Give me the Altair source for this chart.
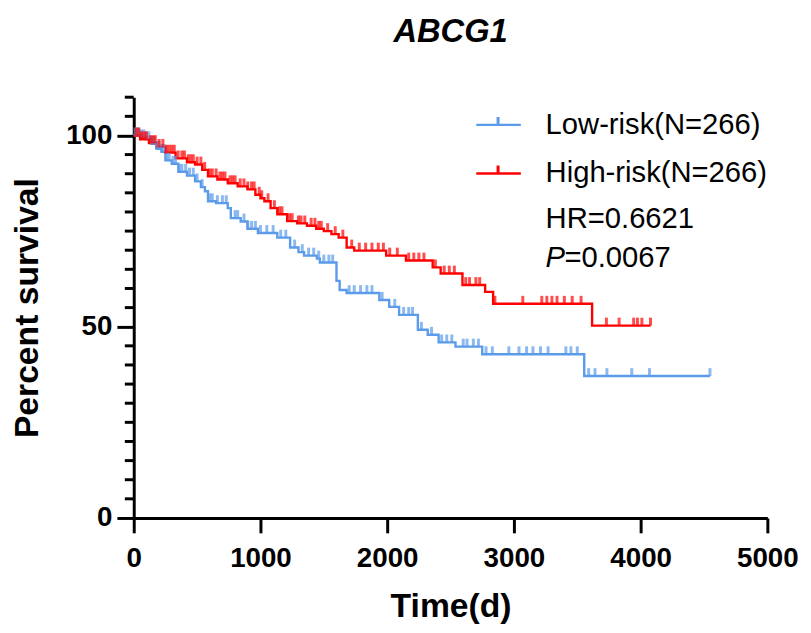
import altair as alt
import pandas as pd

# ---------------- data ----------------
title_text = "ABCG1"
groups = ["Low-risk", "High-risk"]
group_n = [266, 266]
colors = ["#5B9BEA", "#FF0000"]
hr_text = "0.6621"
p_text = "0.0067"

x_ticks = [0, 1000, 2000, 3000, 4000, 5000]
y_major = [0, 50, 100]
y_minor = [5, 10, 15, 20, 25, 30, 35, 40, 45, 55, 60, 65, 70, 75, 80, 85, 90, 95, 105, 110]

# Low-risk (blue) KM steps
low_t = [0, 60, 100, 140, 180, 219, 250, 300, 352, 420, 484, 530, 562, 586, 650, 742, 766,
         844, 898, 980, 1133, 1234, 1300, 1344, 1445, 1469, 1600, 1625, 1680, 1938, 2016,
         2094, 2242, 2320, 2406, 2539, 2750, 3555]
low_s = [100, 99.5, 99, 97.8, 96.5, 95.7, 93.5, 92.6, 90.5, 89.5, 88, 86.5, 85.4, 82.8, 82.3,
         81, 78.4, 77.5, 75.6, 74.5, 73.3, 70.7, 69.5, 68.6, 67.8, 66.8, 62, 59.6, 58.8, 57,
         55.2, 53.1, 49.2, 47.9, 45.9, 44.8, 42.8, 37.1]
low_end = 4547
low_cens = [10, 25, 40, 60, 80, 100, 120, 140, 160, 180, 200, 220, 240, 260, 280, 310, 330, 360,
            380, 410, 440, 470, 500, 540, 600, 620, 660, 700, 730, 800, 820, 870, 900, 930, 960,
            1000, 1050, 1100, 1160, 1200, 1270, 1330, 1380, 1420, 1460, 1500, 1540, 1570, 1700,
            1740, 1790, 1840, 1880, 1960, 2060, 2130, 2170, 2200, 2270, 2350, 2430, 2470, 2510,
            2600, 2630, 2680, 2720, 2780, 2830, 2960, 3040, 3100, 3150, 3210, 3270, 3410, 3450,
            3500, 3590, 3640, 3734, 3930, 4070, 4547]

# High-risk (red) KM steps
high_t = [0, 50, 120, 180, 250, 330, 420, 484, 540, 586, 660, 742, 820, 898, 960, 1000, 1031,
          1080, 1133, 1211, 1290, 1367, 1440, 1500, 1560, 1617, 1680, 1740, 1992, 2148, 2359,
          2422, 2594, 2773, 2836, 3617]
high_s = [100, 99, 98, 97, 95.5, 94, 93, 92.4, 91, 89.3, 88.5, 87.5, 86.7, 85.9, 84.5, 83.6,
          82.8, 81, 79.4, 77.6, 77, 76.4, 75.6, 75, 74.2, 73.3, 70.7, 69.9, 68.6, 67.3, 65.5,
          63.9, 60.9, 59.1, 56, 50.3]
high_end = 4078
high_cens = [20, 40, 60, 80, 100, 130, 150, 170, 200, 230, 260, 280, 300, 320, 350, 380, 400, 430,
             450, 470, 500, 530, 560, 600, 620, 650, 680, 700, 720, 760, 780, 800, 840, 870, 900,
             930, 950, 990, 1010, 1060, 1110, 1150, 1170, 1230, 1250, 1300, 1320, 1350, 1400, 1430,
             1460, 1480, 1530, 1590, 1650, 1720, 1780, 1830, 1880, 1930, 1970, 2020, 2080, 2170,
             2210, 2250, 2290, 2380, 2450, 2490, 2530, 2620, 2650, 2700, 2730, 2850, 3070, 3220,
             3260, 3300, 3340, 3398, 3460, 3530, 3730, 3830, 3945, 3975, 4010, 4078]

# ---------------- tables ----------------
def km_rows(name, ts, ss, end):
    rows = [{"group": name, "t": t, "s": s} for t, s in zip(ts, ss)]
    rows.append({"group": name, "t": end, "s": ss[-1]})
    return rows

def cens_rows(name, ts, ss, cens):
    rows = []
    for c in cens:
        val = ss[0]
        for t, s in zip(ts, ss):
            if t <= c:
                val = s
        rows.append({"group": name, "t": c, "s": val})
    return rows

line_df = pd.DataFrame(km_rows(groups[0], low_t, low_s, low_end) +
                       km_rows(groups[1], high_t, high_s, high_end))
cens_df = pd.DataFrame(cens_rows(groups[0], low_t, low_s, low_cens) +
                       cens_rows(groups[1], high_t, high_s, high_cens))

FONT = "Liberation Sans, Arial, sans-serif"
LFONT = "Liberation Sans Narrow, Arial Narrow, Liberation Sans, sans-serif"
W, H = 640, 425

xenc = alt.X("t:Q", scale=alt.Scale(domain=[0, 5000], nice=False),
             axis=alt.Axis(values=x_ticks, title="Time(d)", format="d",
                           labelFont=LFONT, labelFontSize=28, labelFontWeight="bold",
                           labelColor="black", labelPadding=12, labelOverlap=False, labelFlush=False,
                           tickSize=15, tickWidth=3, tickColor="black",
                           domainWidth=3, domainColor="black", grid=False,
                           titleFont=FONT, titleFontSize=34, titleFontWeight="bold",
                           titleColor="black", titleX=W / 2, titleY=90,
                           titleAlign="center", titleBaseline="middle"))
yenc = alt.Y("s:Q", scale=alt.Scale(domain=[0, 110], nice=False),
             axis=alt.Axis(values=y_major, title="Percent survival", format="d",
                           labelFont=LFONT, labelFontSize=28, labelFontWeight="bold",
                           labelColor="black", labelPadding=5,
                           tickSize=17, tickWidth=3, tickColor="black",
                           domainWidth=3, domainColor="black", grid=False,
                           titleFont=FONT, titleFontSize=34, titleFontWeight="bold",
                           titleColor="black", titleX=-107, titleY=H / 2, titleAngle=270,
                           titleAlign="center", titleBaseline="middle"))
cenc = alt.Color("group:N", scale=alt.Scale(domain=groups, range=colors), legend=None)

lines = alt.Chart(line_df).mark_line(interpolate="step-after", strokeWidth=2.4).encode(
    x=xenc, y=yenc, color=cenc, detail="group:N")
cens = alt.Chart(cens_df).mark_tick(orient="vertical", thickness=3, size=8, yOffset=-4).encode(
    x="t:Q", y="s:Q", color=cenc)
minor = alt.Chart(pd.DataFrame({"s": y_minor})).mark_rule(color="black", strokeWidth=3).encode(
    y="s:Q", x=alt.value(-9), x2=alt.value(0))

one = pd.DataFrame({"a": [0]})
leg = []
leg_y = [28, 77]
for i in range(2):
    leg.append(alt.Chart(one).mark_rule(color=colors[i], strokeWidth=2.4).encode(
        x=alt.value(346), x2=alt.value(391), y=alt.value(leg_y[i])))
    leg.append(alt.Chart(one).mark_rule(color=colors[i], strokeWidth=3).encode(
        x=alt.value(368), y=alt.value(leg_y[i] - 8), y2=alt.value(leg_y[i])))
    leg.append(alt.Chart(one).mark_text(align="left", baseline="middle", font=FONT,
                                        fontSize=29.5, color="black").encode(
        x=alt.value(416), y=alt.value(leg_y[i]),
        text=alt.value(f"{groups[i]}(N={group_n[i]})")))
leg.append(alt.Chart(one).mark_text(align="left", baseline="middle", font=FONT,
                                    fontSize=29.5, color="black").encode(
    x=alt.value(416), y=alt.value(123), text=alt.value(f"HR={hr_text}")))
leg.append(alt.Chart(one).mark_text(align="left", baseline="middle", font=FONT,
                                    fontSize=29.5, fontStyle="italic", color="black").encode(
    x=alt.value(416), y=alt.value(162), text=alt.value("P")))
leg.append(alt.Chart(one).mark_text(align="left", baseline="middle", font=FONT,
                                    fontSize=29.5, color="black").encode(
    x=alt.value(435), y=alt.value(162), text=alt.value(f"={p_text}")))

chart = alt.layer(lines, cens, minor, *leg).properties(
    width=W, height=H,
    title=alt.Title(title_text, font=FONT, fontSize=33, fontStyle="italic", fontWeight="bold",
                    color="black", anchor="middle", frame="group", offset=21,
                    baseline="alphabetic"),
    autosize=alt.AutoSizeParams(type="none"),
    padding={"left": 127, "top": 87, "right": 36, "bottom": 105},
    background="white",
).configure_view(stroke=None)

chart.save("out.html", embed_options={"renderer": "svg", "actions": False})
